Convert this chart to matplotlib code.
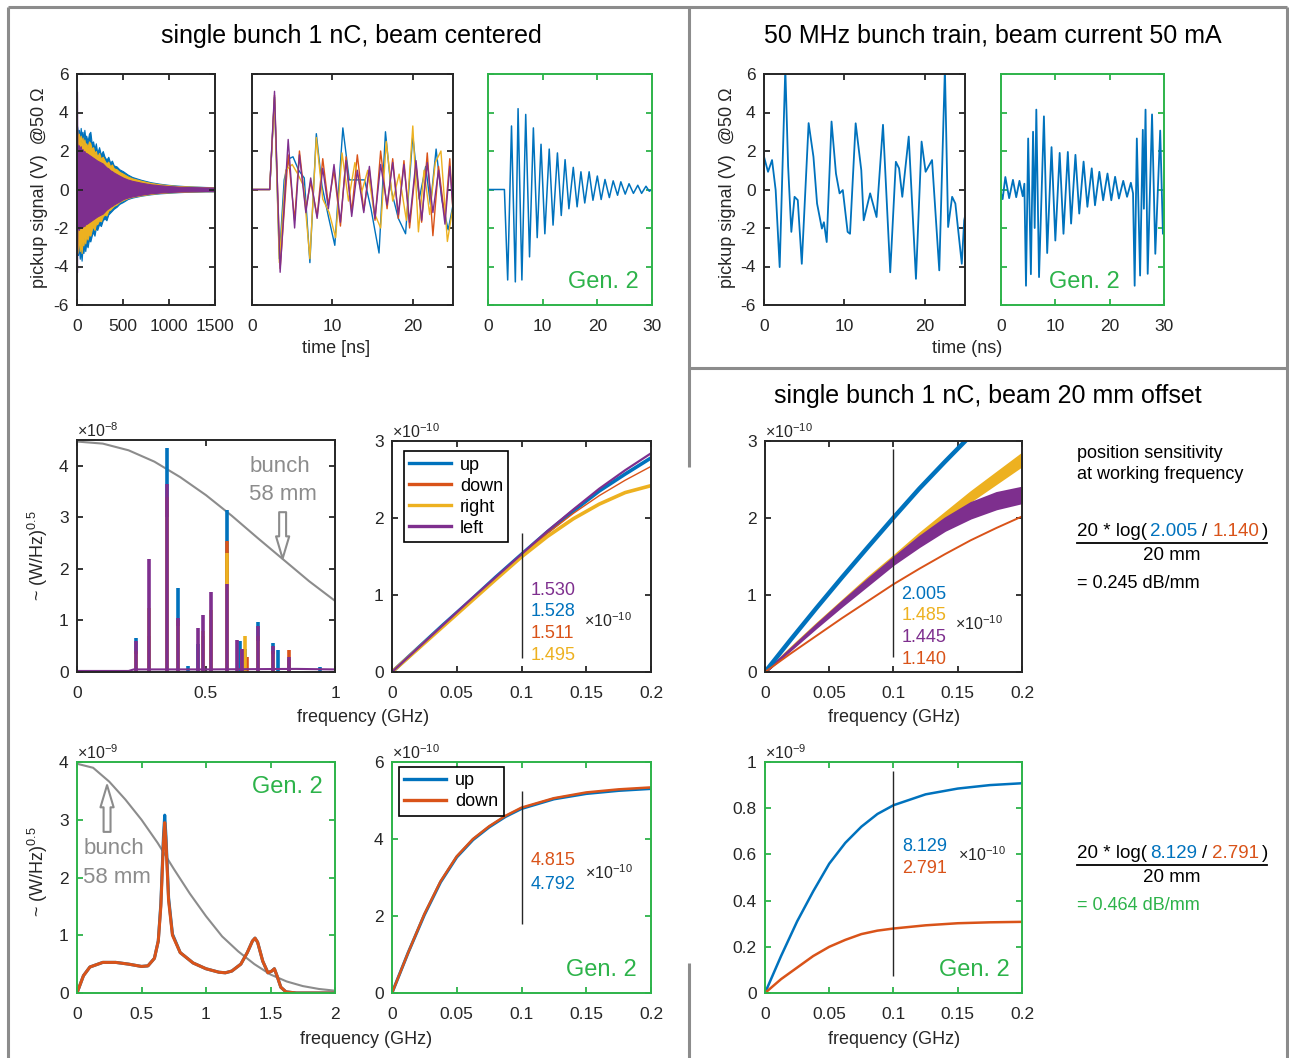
import matplotlib
matplotlib.use('Agg')
import matplotlib.pyplot as plt
from matplotlib.lines import Line2D

plt.rcParams['font.family'] = ['Liberation Sans', 'DejaVu Sans']
plt.rcParams['mathtext.fontset'] = 'custom'
plt.rcParams['mathtext.rm'] = 'Liberation Sans'
plt.rcParams['mathtext.it'] = 'Liberation Sans:italic'
plt.rcParams['mathtext.bf'] = 'Liberation Sans:bold'
plt.rcParams['axes.unicode_minus'] = False

W, H = 1289, 1058
BLUE, ORANGE, YELLOW, PURPLE = '#0072BD', '#D95319', '#EDB120', '#7E2F8E'
GREEN = '#2DB34A'
GREY = '#8c8c8c'
DARK = '#262626'

# ---------------- data ----------------
# single bunch, centered, 0..1500 ns envelopes (V)
t1a = [0, 3, 10, 20, 30, 40, 50, 60, 70, 80, 90, 100, 115, 130, 145, 160, 175, 190, 205, 220,
       240, 260, 280, 300, 320, 340, 360, 380, 400, 430, 460, 500, 550, 600, 700, 800, 900, 1000,
       1100, 1200, 1300, 1400, 1500]
blue1a_hi = [3.3, 3.2, 2.9, 3.1, 2.7, 3.2, 2.8, 3.0, 2.6, 3.1, 2.7, 2.8, 2.5, 2.9, 3.0, 2.4, 2.5, 2.1, 2.4, 1.9,
             2.2, 1.8, 2.0, 1.7, 1.55, 1.7, 1.4, 1.5, 1.25, 1.2, 1.05, 0.95, 0.78, 0.65, 0.5, 0.38, 0.3, 0.24,
             0.2, 0.17, 0.15, 0.13, 0.12]
blue1a_lo = [-3.0, -3.2, -3.4, -3.0, -3.6, -3.2, -3.7, -3.1, -3.3, -2.9, -3.2, -2.8, -3.0, -2.6, -2.7, -2.4, -2.2, -2.4, -2.0, -2.1,
             -1.8, -1.9, -1.6, -1.5, -1.6, -1.3, -1.2, -1.1, -1.0, -0.9, -0.75, -0.65, -0.5, -0.42, -0.32, -0.25, -0.2, -0.17,
             -0.14, -0.12, -0.11, -0.1, -0.1]
yellow1a_hi = [3.1, 3.0, 2.6, 2.9, 2.5, 2.8, 2.4, 2.7, 2.3, 2.6, 2.3, 2.4, 2.2, 2.5, 2.4, 2.1, 2.2, 1.9, 2.0, 1.7,
               1.9, 1.6, 1.7, 1.5, 1.35, 1.45, 1.2, 1.3, 1.1, 1.05, 0.92, 0.82, 0.68, 0.58, 0.45, 0.34, 0.27, 0.22,
               0.18, 0.16, 0.14, 0.12, 0.11]
yellow1a_lo = [-2.5, -3.3, -2.9, -2.7, -3.2, -2.8, -3.3, -2.7, -2.9, -2.5, -2.8, -2.4, -2.6, -2.3, -2.4, -2.1, -1.9, -2.1, -1.8, -1.8,
               -1.6, -1.65, -1.4, -1.3, -1.35, -1.1, -1.05, -0.95, -0.85, -0.78, -0.65, -0.55, -0.45, -0.38, -0.3, -0.23, -0.18, -0.15,
               -0.13, -0.11, -0.1, -0.09, -0.09]
purple1a_hi = [5.1, 2.4, 2.2, 2.3, 2.1, 2.25, 2.0, 2.1, 1.95, 2.0, 1.9, 1.9, 1.85, 1.8, 1.75, 1.7, 1.65, 1.6, 1.55, 1.5,
               1.45, 1.4, 1.35, 1.25, 1.15, 1.1, 1.0, 0.95, 0.88, 0.8, 0.72, 0.62, 0.52, 0.45, 0.35, 0.27, 0.22, 0.18,
               0.15, 0.13, 0.12, 0.11, 0.1]
purple1a_lo = [-4.3, -2.1, -2.0, -2.1, -1.95, -2.0, -1.9, -1.95, -1.85, -1.9, -1.8, -1.8, -1.75, -1.7, -1.65, -1.6, -1.55, -1.5, -1.45, -1.4,
               -1.35, -1.3, -1.25, -1.15, -1.05, -0.98, -0.9, -0.85, -0.78, -0.7, -0.62, -0.5, -0.42, -0.36, -0.27, -0.2, -0.16, -0.13,
               -0.11, -0.1, -0.09, -0.08, -0.08]

# single bunch, centered, first 25 ns
t1b_blue = [0, 2.2, 2.8, 3.4, 4.0, 4.6, 5.1, 5.8, 6.5, 7.2, 8.0, 8.7, 9.5, 10.3, 11.3, 12.1, 13.0, 14.0,
            14.8, 15.8, 16.6, 17.3, 18.2, 19.1, 20.0, 20.8, 21.6, 22.2, 22.9, 23.6, 24.4, 25.0]
v1b_blue = [0, 0, 4.8, -3.6, 0.5, 1.6, 1.7, 1.0, 0.6, -3.8, 2.9, 0.2, -1.4, -2.9, 3.2, 0.5, 0.5, 0.5,
            -1.0, -3.3, 3.0, 0.0, -1.5, -2.3, 2.8, -0.5, 1.2, -0.8, 2.1, -0.5, -2.1, -0.8]
t1b_pr = [0, 2.2, 2.8, 3.5, 4.5, 5.3, 5.9, 6.7, 7.3, 8.1, 8.8, 9.5, 10.2, 11.0, 11.7, 12.4, 13.1, 13.9,
          14.6, 15.3, 16.0, 16.8, 17.5, 18.2, 18.9, 19.6, 20.4, 21.1, 21.8, 22.5, 23.2, 24.0, 24.6, 25.0]
v1b_purple = [0, 0, 5.1, -4.3, 2.6, -2.0, 1.8, -1.2, 0.6, -1.5, 1.1, -1.0, 1.3, -1.7, 1.5, -1.4, 1.0, -1.2,
              1.2, -1.5, 1.3, -0.8, 1.4, -1.3, 1.3, -1.7, 1.5, -1.6, 1.4, -1.2, 1.0, -1.8, 1.2, -1.0]
v1b_orange = [0, 0, 4.9, -4.1, 1.8, -1.6, 2.0, -1.0, 0.4, -1.4, 1.6, -0.8, 1.0, -1.9, 1.7, -1.2, 1.8, -1.1,
              1.0, -1.6, 2.0, -1.0, 1.6, -1.5, 1.5, -2.0, 1.3, -1.7, 1.9, -2.4, 1.2, -1.5, 1.6, -1.2]
t1b_yellow = [0, 2.2, 2.8, 3.4, 4.2, 5.0, 5.7, 6.4, 7.2, 8.0, 8.8, 9.6, 10.4, 11.2, 12.0, 12.8, 13.6, 14.4,
              15.2, 16.0, 16.7, 17.5, 18.3, 19.2, 20.0, 20.7, 21.4, 22.1, 22.8, 23.5, 24.3, 25.0]
v1b_yellow = [0, 0, 4.7, -3.8, 1.0, 1.3, 0.8, 0.2, -3.6, 2.7, -0.5, -1.2, -2.5, 1.9, -0.6, 1.4, -0.2, 1.0,
              -1.2, -2.0, 2.5, -0.6, 0.8, -1.6, 3.3, -2.2, 1.0, -1.3, 1.4, 2.0, -2.7, -0.9]

# Gen. 2 single bunch
t1c = [0, 3.0, 3.6, 4.3, 5.0, 5.5, 6.2, 6.9, 7.6, 8.3, 9.0, 9.7, 10.4, 11.2, 11.9, 12.7, 13.4, 14.1, 14.8, 15.6,
       16.3, 17.0, 17.7, 18.5, 19.2, 20.0, 20.7, 21.4, 22.2, 22.9, 23.7, 24.3, 25.1, 25.8, 26.6, 27.4, 28.1, 28.9, 29.5, 30.0]
v1c = [0, 0, -4.7, 3.3, -4.8, 4.2, -4.7, 3.9, -3.5, 3.2, -2.5, 2.35, -2.3, 2.1, -1.85, 1.9, -1.35, 1.55, -1.0, 1.15,
       -0.9, 0.92, -0.7, 0.92, -0.56, 0.7, -0.52, 0.52, -0.42, 0.45, -0.3, 0.4, -0.24, 0.3, -0.2, 0.22, -0.2, 0.17, -0.09, 0.0]

# 50 MHz bunch train
t2a = [0, 0.5, 1.0, 1.45, 1.95, 2.65, 3.0, 3.4, 3.8, 4.2, 4.7, 5.55, 6.15, 6.6, 7.2, 7.45, 7.8, 8.4, 8.95, 9.4,
       9.8, 10.4, 10.7, 11.4, 12.1, 12.4, 13.2, 14.0, 14.8, 15.7, 16.4, 16.8, 17.2, 18.0, 18.9, 19.6, 20.1, 20.9, 21.8, 22.5,
       22.9, 23.4, 23.8, 24.6, 24.9, 25.0]
v2a = [1.7, 0.92, 1.53, -0.03, -4.03, 6.3, 1.2, -2.2, -0.38, -0.55, -3.86, 3.45, 1.7, -0.73, -2.03, -1.7, -2.73, 3.53, 0.83, -0.2,
       -0.03, -2.2, -2.3, 3.44, 1.0, -1.6, -0.2, -1.43, 3.36, -4.3, 1.44, 1.1, -0.38, 2.75, -4.64, 2.49, 0.92, 1.53, -4.2, 6.3,
       -1.95, -0.38, -0.73, -3.86, -1.6, -1.4]
t2b = [0, 0.3, 0.8, 1.5, 2.2, 2.8, 3.4, 4.0, 4.3, 4.6, 5.0, 5.5, 5.9, 6.2, 6.5, 7.0, 7.9, 8.5, 9.3, 10.0,
       10.8, 11.5, 12.3, 12.9, 13.7, 14.4, 15.2, 15.9, 16.7, 17.3, 18.1, 18.8, 19.6, 20.3, 21.0, 21.7, 22.5, 23.2, 23.9, 24.3,
       24.6, 25.0, 25.6, 26.1, 26.3, 26.6, 27.0, 27.8, 28.4, 29.3, 29.8, 30.0]
v2b = [-0.2, -0.5, 0.65, -0.45, 0.5, -0.4, 0.45, -0.35, 0.3, -5.0, 2.65, -4.4, 3.0, -2.0, 4.15, -4.55, 3.8, -3.3, 2.2, -2.65,
       1.9, -2.3, 1.95, -1.77, 1.8, -1.25, 1.45, -0.9, 1.1, -0.82, 0.92, -0.56, 0.83, -0.56, 0.66, -0.47, 0.45, -0.38, 0.35, -0.2,
       -5.0, 2.65, -4.47, 3.1, -1.0, 4.15, -4.38, 3.9, -3.34, 3.06, -2.3, -1.0]

# spectrum, centered beam (x1e-8), resonance lines
pk_blue_f = [0.23, 0.28, 0.35, 0.39, 0.43, 0.47, 0.49, 0.52, 0.58, 0.63, 0.65, 0.70, 0.76, 0.78, 0.82, 0.94]
pk_blue_h = [0.65, 0.5, 4.35, 1.62, 0.12, 0.55, 0.6, 1.0, 3.15, 0.6, 0.45, 0.97, 0.57, 0.42, 0.25, 0.1]
pk_orange_f = [0.23, 0.28, 0.35, 0.39, 0.49, 0.52, 0.58, 0.64, 0.66, 0.70, 0.76, 0.82]
pk_orange_h = [0.4, 0.7, 3.4, 1.0, 0.7, 1.0, 2.55, 0.45, 0.3, 0.7, 0.4, 0.43]
pk_yellow_f = [0.23, 0.28, 0.35, 0.39, 0.49, 0.52, 0.58, 0.65, 0.70, 0.76]
pk_yellow_h = [0.35, 1.25, 3.0, 0.9, 0.8, 1.2, 2.3, 0.7, 0.6, 0.35]
pk_purple_f = [0.23, 0.28, 0.35, 0.39, 0.47, 0.49, 0.52, 0.58, 0.62, 0.64, 0.70, 0.76, 0.82]
pk_purple_h = [0.6, 2.2, 3.65, 1.05, 0.85, 1.1, 1.55, 1.7, 0.62, 0.45, 0.9, 0.5, 0.3]
base_f = [0, 0.2, 0.22, 0.5, 0.85, 1.0]
base_v = [0.02, 0.02, 0.05, 0.05, 0.06, 0.05]
bunch1_f = [0, 0.1, 0.2, 0.3, 0.4, 0.5, 0.6, 0.7, 0.8, 0.9, 1.0]
bunch1_v = [4.47, 4.43, 4.3, 4.08, 3.78, 3.43, 3.03, 2.6, 2.18, 1.76, 1.38]

# integrated signal 0..0.2 GHz (x1e-10)
f_low = [0, 0.02, 0.04, 0.06, 0.08, 0.10, 0.12, 0.14, 0.16, 0.18, 0.20]
up_c = [0, 0.31, 0.62, 0.92, 1.23, 1.528, 1.82, 2.09, 2.35, 2.57, 2.78]
down_c = [0, 0.31, 0.61, 0.91, 1.21, 1.511, 1.80, 2.06, 2.29, 2.49, 2.67]
right_c = [0, 0.3, 0.6, 0.9, 1.2, 1.495, 1.76, 1.99, 2.18, 2.33, 2.42]
left_c = [0, 0.31, 0.62, 0.93, 1.23, 1.530, 1.83, 2.11, 2.38, 2.62, 2.84]

up_o = [0, 0.42, 0.83, 1.23, 1.62, 2.005, 2.38, 2.73, 3.07, 3.4, 3.7]
down_o = [0, 0.24, 0.47, 0.7, 0.92, 1.14, 1.34, 1.53, 1.71, 1.87, 2.02]
right_o_lo = [0, 0.30, 0.60, 0.89, 1.18, 1.46, 1.73, 1.98, 2.22, 2.45, 2.68]
right_o_hi = [0, 0.32, 0.63, 0.93, 1.23, 1.51, 1.80, 2.07, 2.34, 2.59, 2.84]
left_o_lo = [0, 0.29, 0.58, 0.86, 1.13, 1.40, 1.63, 1.84, 2.0, 2.12, 2.2]
left_o_hi = [0, 0.31, 0.62, 0.92, 1.21, 1.49, 1.76, 2.0, 2.2, 2.33, 2.4]

# Gen. 2 spectrum (x1e-9)
f4a = [0, 0.05, 0.1, 0.2, 0.3, 0.4, 0.5, 0.55, 0.6, 0.63, 0.65, 0.67, 0.68, 0.69, 0.71, 0.74, 0.8, 0.9,
       1.0, 1.1, 1.15, 1.2, 1.27, 1.32, 1.36, 1.38, 1.4, 1.44, 1.48, 1.51, 1.53, 1.55, 1.58, 1.62, 1.7, 2.0]
up4a = [0, 0.3, 0.45, 0.53, 0.53, 0.5, 0.46, 0.47, 0.6, 0.9, 1.55, 2.7, 3.08, 2.7, 1.65, 1.02, 0.7, 0.52,
        0.42, 0.36, 0.35, 0.38, 0.5, 0.7, 0.9, 0.95, 0.88, 0.55, 0.35, 0.38, 0.42, 0.3, 0.1, 0.02, 0, 0]
down4a = [0, 0.3, 0.45, 0.53, 0.53, 0.5, 0.46, 0.47, 0.6, 0.9, 1.5, 2.6, 2.95, 2.6, 1.6, 1.0, 0.7, 0.52,
          0.42, 0.36, 0.35, 0.38, 0.5, 0.7, 0.9, 0.95, 0.88, 0.55, 0.35, 0.38, 0.42, 0.3, 0.1, 0.02, 0, 0]
bunch2_f = [0, 0.125, 0.25, 0.375, 0.5, 0.625, 0.75, 0.875, 1.0, 1.125, 1.25, 1.375, 1.5, 1.625, 1.75, 1.875, 2.0]
bunch2_v = [3.97, 3.9, 3.66, 3.35, 3.0, 2.6, 2.15, 1.72, 1.33, 0.98, 0.72, 0.5, 0.32, 0.2, 0.12, 0.07, 0.04]

f_g2 = [0, 0.0125, 0.025, 0.0375, 0.05, 0.0625, 0.075, 0.0875, 0.1, 0.125, 0.15, 0.175, 0.2]
up4b = [0, 1.05, 2.03, 2.88, 3.53, 3.98, 4.31, 4.58, 4.79, 5.04, 5.18, 5.26, 5.31]
down4b = [0, 1.05, 2.05, 2.9, 3.55, 4.0, 4.33, 4.6, 4.815, 5.06, 5.21, 5.29, 5.34]
up4c = [0, 0.16, 0.31, 0.44, 0.56, 0.65, 0.72, 0.775, 0.8129, 0.86, 0.885, 0.9, 0.908]
down4c = [0, 0.06, 0.11, 0.16, 0.2, 0.23, 0.255, 0.27, 0.2791, 0.293, 0.302, 0.306, 0.308]

fig = plt.figure(figsize=(W / 100, H / 100), dpi=100)


def add_ax(x0, y0, x1, y1, green=False):
    ax = fig.add_axes([x0 / W, 1 - y1 / H, (x1 - x0) / W, (y1 - y0) / H])
    col = GREEN if green else DARK
    for s in ax.spines.values():
        s.set_color(col)
        s.set_linewidth(1.4)
    ax.tick_params(direction='in', top=True, right=True, length=4, width=1.3, color=col,
                   labelsize=12.5, labelcolor=DARK)
    ax.tick_params(axis='x', pad=10)
    ax.tick_params(axis='y', pad=6)
    return ax


def ftext(x, y, s, **kw):
    return fig.text(x / W, 1 - y / H, s, **kw)


def fline(x0, y0, x1, y1, **kw):
    fig.add_artist(Line2D([x0 / W, x1 / W], [1 - y0 / H, 1 - y1 / H], transform=fig.transFigure, **kw))


def offset_label(ax, s):
    ax.text(0.0, 1.0, s, transform=ax.transAxes, ha='left', va='bottom', fontsize=11.5, color=DARK)


def gen2(ax, x, y):
    ax.text(x, y, 'Gen. 2', transform=ax.transAxes, ha='right', va='center', fontsize=17, color=GREEN)


def hollow_arrow(ax, tail, tip):
    ax.annotate('', xy=tip, xytext=tail,
                arrowprops=dict(arrowstyle='simple,head_length=1.6,head_width=0.95,tail_width=0.5',
                                fc='white', ec=GREY, lw=1.5, shrinkA=0, shrinkB=0))


time_ticks = [-6, -4, -2, 0, 2, 4, 6]

# ---- row 1 ----
ax = add_ax(77, 74, 215, 305)
ax.fill_between(t1a, blue1a_lo, blue1a_hi, color=BLUE, lw=0.8)
ax.fill_between(t1a, yellow1a_lo, yellow1a_hi, color=YELLOW, lw=0.8)
ax.fill_between(t1a, purple1a_lo, purple1a_hi, color=PURPLE, lw=0.8)
ax.set_xlim(0, 1500)
ax.set_ylim(-6, 6)
ax.set_xticks([0, 500, 1000, 1500])
ax.set_yticks(time_ticks)

ax = add_ax(252, 74, 453, 305)
ax.plot(t1b_blue, v1b_blue, color=BLUE, lw=1.0)
ax.plot(t1b_pr, v1b_orange, color=ORANGE, lw=1.0)
ax.plot(t1b_yellow, v1b_yellow, color=YELLOW, lw=1.0)
ax.plot(t1b_pr, v1b_purple, color=PURPLE, lw=1.0)
ax.set_xlim(0, 25)
ax.set_ylim(-6, 6)
ax.set_xticks([0, 10, 20])
ax.set_yticks(time_ticks)
ax.set_yticklabels([])

ax = add_ax(488, 74, 652, 305, green=True)
ax.plot(t1c, v1c, color=BLUE, lw=1.1)
ax.set_xlim(0, 30)
ax.set_ylim(-6, 6)
ax.set_xticks([0, 10, 20, 30])
ax.set_yticks(time_ticks)
ax.set_yticklabels([])
gen2(ax, 0.92, 0.1)

ax = add_ax(764, 74, 965, 305)
ax.plot(t2a, v2a, color=BLUE, lw=1.3)
ax.set_xlim(0, 25)
ax.set_ylim(-6, 6)
ax.set_xticks([0, 10, 20])
ax.set_yticks(time_ticks)

ax = add_ax(1001, 74, 1164, 305, green=True)
ax.plot(t2b, v2b, color=BLUE, lw=1.3)
ax.set_xlim(0, 30)
ax.set_ylim(-6, 6)
ax.set_xticks([0, 10, 20, 30])
ax.set_yticks(time_ticks)
ax.set_yticklabels([])
gen2(ax, 0.73, 0.1)

# ---- row 2 ----
ax = add_ax(77, 440, 335, 672)
ax.plot(bunch1_f, bunch1_v, color=GREY, lw=1.5)
for f, h, c in [(pk_blue_f, pk_blue_h, BLUE), (pk_orange_f, pk_orange_h, ORANGE),
                (pk_yellow_f, pk_yellow_h, YELLOW), (pk_purple_f, pk_purple_h, PURPLE)]:
    ax.vlines(f, 0, h, color=c, lw=2.6)
ax.plot(base_f, base_v, color=PURPLE, lw=1.5)
ax.set_xlim(0, 1)
ax.set_ylim(0, 4.5)
ax.set_xticks([0, 0.5, 1])
ax.set_xticklabels(['0', '0.5', '1'])
ax.set_yticks([0, 1, 2, 3, 4])
offset_label(ax, '×10$^{-8}$')
ax.text(0.667, 3.98, 'bunch', fontsize=16, color=GREY, ha='left', va='center')
ax.text(0.667, 3.44, '58 mm', fontsize=16, color=GREY, ha='left', va='center')
hollow_arrow(ax, (0.797, 3.1), (0.797, 2.2))

ax = add_ax(392, 441, 651, 672)
ax.plot(f_low, up_c, color=BLUE, lw=2.6, label='up')
ax.plot(f_low, down_c, color=ORANGE, lw=1.0, label='down')
ax.plot(f_low, right_c, color=YELLOW, lw=2.6, label='right')
ax.plot(f_low, left_c, color=PURPLE, lw=1.6, label='left')
ax.vlines([0.1], 0.18, 1.8, color=DARK, lw=1)
ax.set_xlim(0, 0.2)
ax.set_ylim(0, 3)
ax.set_xticks([0, 0.05, 0.1, 0.15, 0.2])
ax.set_xticklabels(['0', '0.05', '0.1', '0.15', '0.2'])
ax.set_yticks([0, 1, 2, 3])
offset_label(ax, '×10$^{-10}$')
leg = ax.legend(loc='upper left', bbox_to_anchor=(0.046, 0.955), borderaxespad=0, fancybox=False,
                edgecolor='black', framealpha=1, fontsize=13, handlelength=2.3, borderpad=0.3,
                labelspacing=0.22, handletextpad=0.5)
for ln in leg.get_lines():
    ln.set_linewidth(2.4)
leg.get_frame().set_linewidth(1.2)
for s, y, c in [('1.530', 1.06, PURPLE), ('1.528', 0.79, BLUE), ('1.511', 0.50, ORANGE), ('1.495', 0.22, YELLOW)]:
    ax.text(0.107, y, s, color=c, fontsize=13, ha='left', va='center')
ax.text(0.148, 0.67, '×10$^{-10}$', color=DARK, fontsize=11.5, ha='left', va='center')

ax = add_ax(765, 441, 1022, 672)
ax.plot(f_low, up_o, color=BLUE, lw=3.2)
ax.plot(f_low, down_o, color=ORANGE, lw=1.4)
ax.fill_between(f_low, right_o_lo, right_o_hi, color=YELLOW, lw=1.5, edgecolor=YELLOW)
ax.fill_between(f_low, left_o_lo, left_o_hi, color=PURPLE, lw=1.5, edgecolor=PURPLE)
ax.vlines([0.1], 0.19, 2.89, color=DARK, lw=1)
ax.set_xlim(0, 0.2)
ax.set_ylim(0, 3)
ax.set_xticks([0, 0.05, 0.1, 0.15, 0.2])
ax.set_xticklabels(['0', '0.05', '0.1', '0.15', '0.2'])
ax.set_yticks([0, 1, 2, 3])
offset_label(ax, '×10$^{-10}$')
for s, y, c in [('2.005', 1.01, BLUE), ('1.485', 0.73, YELLOW), ('1.445', 0.445, PURPLE), ('1.140', 0.16, ORANGE)]:
    ax.text(0.106, y, s, color=c, fontsize=13, ha='left', va='center')
ax.text(0.148, 0.63, '×10$^{-10}$', color=DARK, fontsize=11.5, ha='left', va='center')

# ---- row 3 ----
ax = add_ax(77, 762, 335, 993, green=True)
ax.plot(bunch2_f, bunch2_v, color=GREY, lw=1.5)
ax.plot(f4a, up4a, color=BLUE, lw=2.2)
ax.plot(f4a, down4a, color=ORANGE, lw=2.2)
ax.set_xlim(0, 2)
ax.set_ylim(0, 4)
ax.set_xticks([0, 0.5, 1, 1.5, 2])
ax.set_xticklabels(['0', '0.5', '1', '1.5', '2'])
ax.set_yticks([0, 1, 2, 3, 4])
offset_label(ax, '×10$^{-9}$')
gen2(ax, 0.953, 0.89)
ax.text(0.05, 2.51, 'bunch', fontsize=16, color=GREY, ha='left', va='center')
ax.text(0.05, 2.0, '58 mm', fontsize=16, color=GREY, ha='left', va='center')
hollow_arrow(ax, (0.233, 2.79), (0.233, 3.6))

ax = add_ax(392, 762, 651, 993, green=True)
ax.plot(f_g2, up4b, color=BLUE, lw=2.2, label='up')
ax.plot(f_g2, down4b, color=ORANGE, lw=1.8, label='down')
ax.vlines([0.1], 1.79, 5.25, color=DARK, lw=1)
ax.set_xlim(0, 0.2)
ax.set_ylim(0, 6)
ax.set_xticks([0, 0.05, 0.1, 0.15, 0.2])
ax.set_xticklabels(['0', '0.05', '0.1', '0.15', '0.2'])
ax.set_yticks([0, 2, 4, 6])
offset_label(ax, '×10$^{-10}$')
leg = ax.legend(loc='upper left', bbox_to_anchor=(0.027, 0.978), borderaxespad=0, fancybox=False,
                edgecolor='black', framealpha=1, fontsize=13, handlelength=2.3, borderpad=0.3,
                labelspacing=0.22, handletextpad=0.5)
for ln in leg.get_lines():
    ln.set_linewidth(2.4)
leg.get_frame().set_linewidth(1.2)
ax.text(0.107, 3.43, '4.815', color=ORANGE, fontsize=13, ha='left', va='center')
ax.text(0.107, 2.83, '4.792', color=BLUE, fontsize=13, ha='left', va='center')
ax.text(0.149, 3.12, '×10$^{-10}$', color=DARK, fontsize=11.5, ha='left', va='center')
gen2(ax, 0.946, 0.1)

ax = add_ax(765, 762, 1022, 993, green=True)
ax.plot(f_g2, up4c, color=BLUE, lw=1.8)
ax.plot(f_g2, down4c, color=ORANGE, lw=1.8)
ax.vlines([0.1], 0.072, 0.96, color=DARK, lw=1)
ax.set_xlim(0, 0.2)
ax.set_ylim(0, 1)
ax.set_xticks([0, 0.05, 0.1, 0.15, 0.2])
ax.set_xticklabels(['0', '0.05', '0.1', '0.15', '0.2'])
ax.set_yticks([0, 0.2, 0.4, 0.6, 0.8, 1])
ax.set_yticklabels(['0', '0.2', '0.4', '0.6', '0.8', '1'])
offset_label(ax, '×10$^{-9}$')
ax.text(0.107, 0.635, '8.129', color=BLUE, fontsize=13, ha='left', va='center')
ax.text(0.107, 0.537, '2.791', color=ORANGE, fontsize=13, ha='left', va='center')
ax.text(0.150, 0.6, '×10$^{-10}$', color=DARK, fontsize=11.5, ha='left', va='center')
gen2(ax, 0.951, 0.1)

# ---- labels and titles ----
ftext(351, 36, 'single bunch 1 nC, beam centered', fontsize=18, ha='center', va='center', color='black')
ftext(993, 36, '50 MHz bunch train, beam current 50 mA', fontsize=18, ha='center', va='center', color='black')
ftext(988, 396, 'single bunch 1 nC, beam 20 mm offset', fontsize=18, ha='center', va='center', color='black')

ylab = 'pickup signal (V)  @50 Ω'
ftext(40, 188, ylab, fontsize=13, rotation=90, ha='center', va='center', color=DARK)
ftext(727, 188, ylab, fontsize=13, rotation=90, ha='center', va='center', color=DARK)
flab = '~ (W/Hz)$^{0.5}$'
ftext(38, 556, flab, fontsize=13, rotation=90, ha='center', va='center', color=DARK)
ftext(38, 872, flab, fontsize=13, rotation=90, ha='center', va='center', color=DARK)

ftext(336, 349, 'time [ns]', fontsize=13, ha='center', va='center', color=DARK)
ftext(967, 349, 'time (ns)', fontsize=13, ha='center', va='center', color=DARK)
ftext(363, 717, 'frequency (GHz)', fontsize=13, ha='center', va='center', color=DARK)
ftext(894, 717, 'frequency (GHz)', fontsize=13, ha='center', va='center', color=DARK)
ftext(366, 1040, 'frequency (GHz)', fontsize=13, ha='center', va='center', color=DARK)
ftext(894, 1040, 'frequency (GHz)', fontsize=13, ha='center', va='center', color=DARK)

# right-hand notes
ftext(1077, 453, 'position sensitivity', fontsize=13, ha='left', va='center', color='black')
ftext(1077, 474, 'at working frequency', fontsize=13, ha='left', va='center', color='black')

renderer = fig.canvas.get_renderer()


def colored_row(x, y, pieces, size=13.5):
    for s, c, gap in pieces:
        t = ftext(x, y, s, fontsize=size, color=c, ha='left', va='center')
        x += t.get_window_extent(renderer=renderer).width + gap


colored_row(1077, 531, [('20 * log(', 'black', 3), ('2.005', BLUE, 5), ('/', 'black', 5),
                        ('1.140', ORANGE, 3), (')', 'black', 0)])
fline(1077, 543, 1267, 543, color='black', lw=1.3)
ftext(1172, 555, '20 mm', fontsize=13.5, ha='center', va='center', color='black')
ftext(1077, 583, '= 0.245 dB/mm', fontsize=13, ha='left', va='center', color='black')

colored_row(1077, 853, [('20 * log(', 'black', 3), ('8.129', BLUE, 5), ('/', 'black', 5),
                        ('2.791', ORANGE, 3), (')', 'black', 0)])
fline(1077, 865, 1267, 865, color='black', lw=1.3)
ftext(1172, 877, '20 mm', fontsize=13.5, ha='center', va='center', color='black')
ftext(1077, 905, '= 0.464 dB/mm', fontsize=13, ha='left', va='center', color=GREEN)

# grey frame lines
fk = dict(color=GREY, lw=2.2, solid_capstyle='butt')
fline(8, 7, 1287, 7, **fk)
fline(8, 7, 8, 1058, **fk)
fline(1287, 7, 1287, 1058, **fk)
fline(689, 7, 689, 467, **fk)
fline(689, 963, 689, 1058, **fk)
fline(689, 368, 1287, 368, **fk)

fig.savefig('out.png', dpi=100)
